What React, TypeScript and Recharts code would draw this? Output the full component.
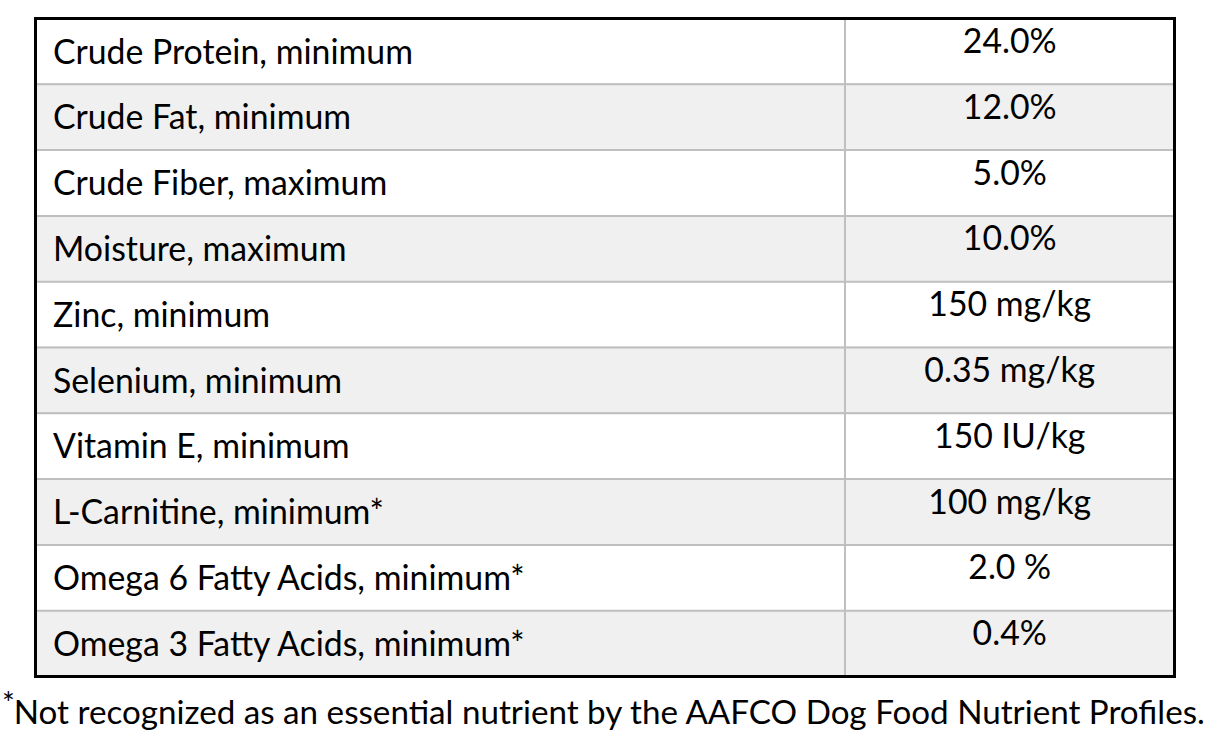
import React from "react";
import {
  BarChart,
  Bar,
  XAxis,
  YAxis,
  Cell,
  LabelList,
  ReferenceLine,
  ReferenceArea,
  Customized,
} from "recharts";

const nutrients = [
  "Crude Protein, minimum",
  "Crude Fat, minimum",
  "Crude Fiber, maximum",
  "Moisture, maximum",
  "Zinc, minimum",
  "Selenium, minimum",
  "Vitamin E, minimum",
  "L-Carnitine, minimum*",
  "Omega 6 Fatty Acids, minimum*",
  "Omega 3 Fatty Acids, minimum*",
];

const guarantees = [
  "24.0%",
  "12.0%",
  "5.0%",
  "10.0%",
  "150 mg/kg",
  "0.35 mg/kg",
  "150 IU/kg",
  "100 mg/kg",
  "2.0 %",
  "0.4%",
];

const footnote =
  "Not recognized as an essential nutrient by the AAFCO Dog Food Nutrient Profiles.";

const COLUMN_SPLIT = 71.07; // share of table width taken by the first column
const rowFills = ["#ffffff", "#f0f0f0"];

const rows = nutrients.map((name, i) => ({
  name,
  value: guarantees[i],
  span: 100,
}));

const FONT = "Lato, 'Open Sans', sans-serif";
const FONT_SIZE = 33.8;

const NameLabel = (props: any) => {
  const { x, y, height, value } = props;
  return (
    <text
      x={x + 17.5}
      y={y + height / 2 + 12}
      fontFamily={FONT}
      fontSize={FONT_SIZE}
      fill="#000"
    >
      {value}
    </text>
  );
};

const ValueLabel = (props: any) => {
  const { x, y, width, height, value } = props;
  const left = x + (width * COLUMN_SPLIT) / 100;
  const cx = (left + x + width) / 2;
  return (
    <text
      x={cx}
      y={y + height / 2 + 1.5}
      textAnchor="middle"
      fontFamily={FONT}
      fontSize={FONT_SIZE}
      fill="#000"
    >
      {value}
    </text>
  );
};

const Footnote = () => (
  <text x={2} y={724} fontFamily={FONT} fontSize={33.2} fill="#000">
    <tspan fontSize={30} dy={-10}>
      *
    </tspan>
    <tspan dy={10} dx={-1}>{footnote}</tspan>
  </text>
);

export default function App() {
  return (
    <div style={{ position: "absolute", left: 0, top: 0, background: "#fff" }}>
      <BarChart
        width={1210}
        height={736}
        data={rows}
        layout="vertical"
        barCategoryGap={0}
        margin={{ top: 18.5, right: 35.5, bottom: 59.5, left: 35.5 }}
      >
        <XAxis type="number" domain={[0, 100]} hide />
        <YAxis type="category" dataKey="name" hide />
        <Bar dataKey="span" isAnimationActive={false} stroke="#bfbfbf" strokeWidth={2}>
          {rows.map((_, i) => (
            <Cell key={i} fill={rowFills[i % 2]} />
          ))}
          <LabelList dataKey="name" content={NameLabel} />
          <LabelList dataKey="value" content={ValueLabel} />
        </Bar>
        <ReferenceLine x={COLUMN_SPLIT} stroke="#bfbfbf" strokeWidth={2} />
        <ReferenceArea
          x1={0}
          x2={100}
          fill="none"
          fillOpacity={0}
          stroke="#000"
          strokeWidth={3}
          zIndex={2500}
        />
        <Customized component={Footnote} />
      </BarChart>
    </div>
  );
}
